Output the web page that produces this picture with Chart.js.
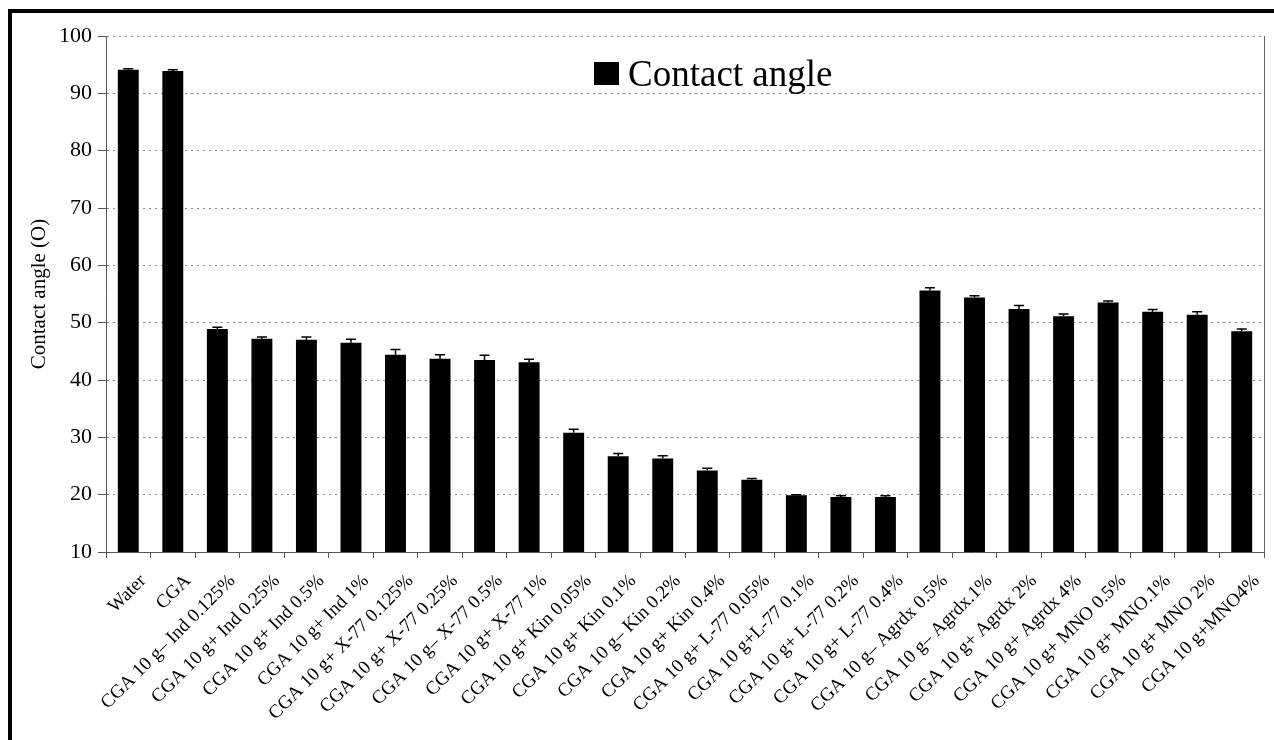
<!DOCTYPE html>
<html>
<head>
<meta charset="utf-8">
<title>Contact angle</title>
<script src="https://cdn.jsdelivr.net/npm/chart.js@4/dist/chart.umd.min.js"></script>
<style>
    html, body { margin: 0; padding: 0; background: #fff; }
    #wrap { position: relative; width: 1274px; height: 740px; overflow: hidden; }
    #frame {
        position: absolute; left: 8px; top: 9px; right: -10px; bottom: -10px;
        border-left: 4px solid #000; border-top: 4px solid #000;
        pointer-events: none;
    }
</style>
</head>
<body>
<div id="wrap">
    <canvas id="angleChart" width="1274" height="740"></canvas>
    <div id="frame"></div>
</div>
<script>
// --- DỮ LIỆU ---
const categories = [
    "Water", "CGA",
    "CGA 10 g– Ind 0.125%", "CGA 10 g+ Ind 0.25%", "CGA 10 g+ Ind 0.5%", "CGA 10 g+ Ind 1%",
    "CGA 10 g+ X-77 0.125%", "CGA 10 g+ X-77 0.25%", "CGA 10 g– X-77 0.5%", "CGA 10 g+ X-77 1%",
    "CGA 10 g+ Kin 0.05%", "CGA 10 g+ Kin 0.1%", "CGA 10 g– Kin 0.2%", "CGA 10 g+ Kin 0.4%",
    "CGA 10 g+ L-77 0.05%", "CGA 10 g+L-77 0.1%", "CGA 10 g+ L-77 0.2%", "CGA 10 g+ L-77 0.4%",
    "CGA 10 g– Agrdx 0.5%", "CGA 10 g– Agrdx.1%", "CGA 10 g+ Agrdx 2%", "CGA 10 g+ Agrdx 4%",
    "CGA 10 g+ MNO 0.5%", "CGA 10 g+ MNO.1%", "CGA 10 g+ MNO 2%", "CGA 10 g+MNO4%"
];
const contactAngle = [
    94.1, 93.9,
    48.9, 47.2, 47.0, 46.5,
    44.4, 43.7, 43.5, 43.1,
    30.8, 26.7, 26.3, 24.2,
    22.6, 19.9, 19.6, 19.6,
    55.6, 54.4, 52.4, 51.1,
    53.5, 51.9, 51.4, 48.5
];
const angleError = [
    0.2, 0.2,
    0.3, 0.3, 0.5, 0.6,
    0.9, 0.7, 0.8, 0.5,
    0.6, 0.5, 0.5, 0.4,
    0.2, 0.1, 0.2, 0.2,
    0.5, 0.3, 0.6, 0.4,
    0.3, 0.4, 0.5, 0.4
];
const yTicks = [10, 20, 30, 40, 50, 60, 70, 80, 90, 100];
const seriesName = "Contact angle";
const yTitle = "Contact angle (O)";

const SERIF = "'Liberation Serif', 'Times New Roman', serif";

// --- PLUGIN: thanh sai số + chú thích + viền phải ---
const errorBars = {
    id: 'errorBars',
    afterDatasetsDraw(chart) {
        const meta = chart.getDatasetMeta(0);
        const y = chart.scales.y;
        const ctx = chart.ctx;
        ctx.save();
        ctx.strokeStyle = '#000';
        ctx.lineWidth = 1.5;
        meta.data.forEach((bar, i) => {
            const top = y.getPixelForValue(contactAngle[i] + angleError[i]);
            ctx.beginPath();
            ctx.moveTo(bar.x, bar.y);
            ctx.lineTo(bar.x, top);
            ctx.moveTo(bar.x - 5, top);
            ctx.lineTo(bar.x + 5, top);
            ctx.stroke();
        });
        ctx.restore();
    }
};

const boxLegend = {
    id: 'boxLegend',
    afterDraw(chart) {
        const { ctx, chartArea } = chart;
        ctx.save();
        // viền phải vùng vẽ
        ctx.strokeStyle = '#666';
        ctx.lineWidth = 1;
        ctx.beginPath();
        ctx.moveTo(chartArea.right + 0.5, chartArea.top);
        ctx.lineTo(chartArea.right + 0.5, chartArea.bottom);
        ctx.stroke();
        // chú thích
        ctx.fillStyle = '#000';
        ctx.fillRect(594, 62, 25, 23);
        ctx.font = '37px ' + SERIF;
        ctx.textBaseline = 'alphabetic';
        ctx.fillText(seriesName, 628, 86);
        ctx.restore();
    }
};

// --- BIỂU ĐỒ ---
let angleChart;

function initChart() {
    const ctx = document.getElementById('angleChart').getContext('2d');
    angleChart = new Chart(ctx, {
        type: 'bar',
        data: {
            labels: categories,
            datasets: [{
                label: seriesName,
                data: contactAngle,
                backgroundColor: '#000',
                borderWidth: 0,
                barPercentage: 0.47,
                categoryPercentage: 1
            }]
        },
        options: {
            responsive: false,
            animation: false,
            layout: { padding: { left: 0, top: 36, right: 10, bottom: 0 } },
            plugins: {
                legend: { display: false },
                tooltip: { enabled: false }
            },
            scales: {
                x: {
                    offset: true,
                    grid: {
                        offset: true,
                        drawOnChartArea: false,
                        tickLength: 6,
                        color: '#555'
                    },
                    border: { color: '#555', width: 1 },
                    ticks: {
                        autoSkip: false,
                        minRotation: 45,
                        maxRotation: 45,
                        padding: 12,
                        labelOffset: 15,
                        color: '#000',
                        font: { family: SERIF, size: 19 }
                    },
                    afterFit(scale) { scale.height = 188; }
                },
                y: {
                    min: 10,
                    max: 100,
                    afterBuildTicks(scale) { scale.ticks = yTicks.map(v => ({ value: v })); },
                    grid: {
                        color: '#8a8a8a',
                        lineWidth: 1,
                        tickLength: 8,
                        tickColor: '#555'
                    },
                    // v4: border.dash làm lưới chấm
                    border: { color: '#555', width: 1, dash: [2, 4] },
                    ticks: {
                        padding: 6,
                        color: '#000',
                        font: { family: SERIF, size: 22 }
                    },
                    title: {
                        display: true,
                        text: yTitle,
                        color: '#000',
                        font: { family: SERIF, size: 21 },
                        padding: { top: 27, bottom: 0 }
                    },
                    afterFit(scale) { scale.width = 106; }
                }
            }
        },
        plugins: [errorBars, boxLegend]
    });
}

// --- KHỞI CHẠY ---
window.addEventListener('DOMContentLoaded', () => {
    initChart();
});
</script>
</body>
</html>
